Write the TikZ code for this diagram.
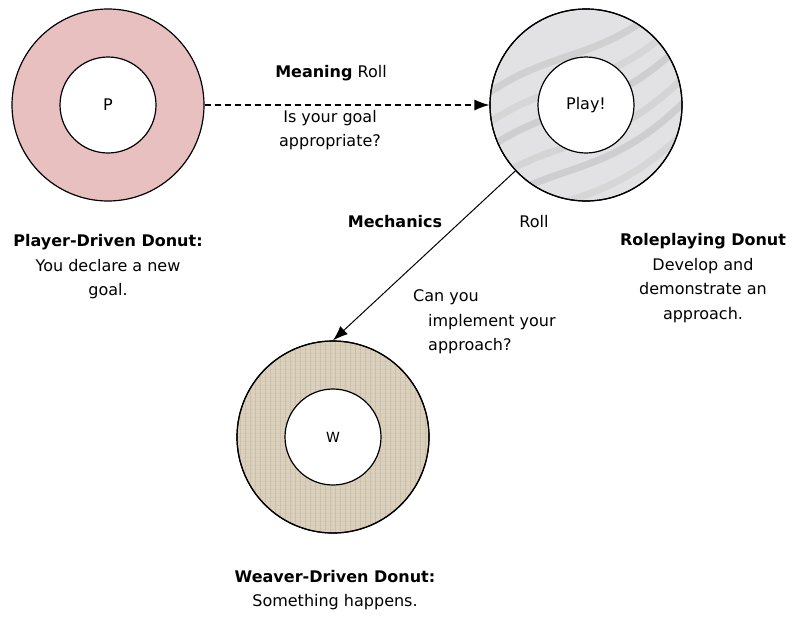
\documentclass[tikz,border=0pt]{standalone}
\usepackage{fontspec}
\setmainfont{DejaVu Sans}
\usetikzlibrary{arrows.meta,patterns.meta}
\definecolor{pinkfill}{RGB}{232,192,192}
\definecolor{marblefill}{RGB}{226,226,228}
\definecolor{tanfill}{RGB}{220,209,188}
\tikzset{
  donut/.style={circle, draw, line width=1.2pt, minimum size=192pt, inner sep=0pt},
  hole/.style={circle, draw, fill=white, line width=1.2pt, minimum size=96pt, inner sep=0pt, font=\fontsize{16}{20}\selectfont},
  txt/.style={align=center, inner sep=0pt, font=\fontsize{16}{24.5}\selectfont},
}
\begin{document}
\begin{tikzpicture}[x=1pt, y=-1pt, >={Latex[length=15pt,width=11pt]}]
\useasboundingbox (0,0) rectangle (802,624);
\node[donut, fill=pinkfill] (P) at (108,105) {};
\node[donut, fill=marblefill] (Play) at (586,105) {};
\node[donut, fill=tanfill] (W) at (333,437) {};
% marble veins and burlap weave
\begin{scope}
\clip (Play) circle (95);
\foreach \d/\o in {-70/0.18, -40/0.12, -15/0.2, 20/0.14, 45/0.2, 75/0.12}
  \draw[gray, line width=7pt, opacity=\o, line cap=round] ([shift={(-100,\d+60)}]Play.center) .. controls ([shift={(-30,\d+10)}]Play.center) and ([shift={(20,\d+30)}]Play.center) .. ([shift={(100,\d-50)}]Play.center);
\end{scope}
\path[pattern={Lines[angle=0,distance=4pt,line width=0.3pt]}, pattern color=tanfill!88!black] (W) circle (95);
\path[pattern={Lines[angle=90,distance=5pt,line width=0.3pt]}, pattern color=tanfill!92!black] (W) circle (95);
\draw[line width=1.2pt] (Play) circle (96) (W) circle (96);
\node[hole] (Pin) at (P) {P};
\node[hole] (Playin) at (Play) {Play!};
\node[hole, font=\fontsize{14}{18}\selectfont] (Win) at (W) {W};

	\draw[->, line width=1.2pt, dash pattern=on 6pt off 4pt] (P.east)--(Play.west);
\draw[->, line width=1pt] (Play.223)--(W.north);

\node[txt] (meaning) at (331,73) {\textbf{Meaning} Roll};
\node[txt] (goal) at (330,130) {Is your goal\\appropriate?};
\node[txt] (mech) at (395,222) {\textbf{Mechanics}};
\node[txt] (roll) at (534,222) {Roll};
\node[txt, align=left, anchor=west] (impl) at (413,322) {Can you\\\hspace{15pt}implement your\\\hspace{15pt}approach?};
\node[txt] (Ptxt) at (108,267) {\textbf{Player-Driven Donut:}\\You declare a new\\goal.};
\node[txt] (Playtxt) at (703,278) {\textbf{Roleplaying Donut}\\Develop and\\demonstrate an\\approach.};
\node[txt] (Wtxt) at (335,590) {\textbf{Weaver-Driven Donut:}\\Something happens.};
	\end{tikzpicture}
\end{document}
